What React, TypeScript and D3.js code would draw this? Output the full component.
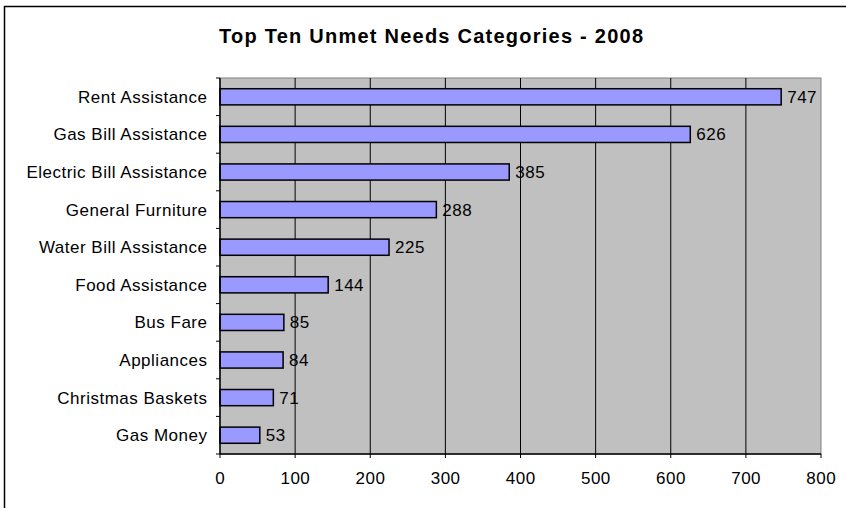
import React from "react";
import * as d3 from "d3";

const title = "Top Ten Unmet Needs Categories - 2008";
const categories = [
  "Rent Assistance",
  "Gas Bill Assistance",
  "Electric Bill Assistance",
  "General Furniture",
  "Water Bill Assistance",
  "Food Assistance",
  "Bus Fare",
  "Appliances",
  "Christmas Baskets",
  "Gas Money",
];
const values = [747, 626, 385, 288, 225, 144, 85, 84, 71, 53];
const xTicks = [0, 100, 200, 300, 400, 500, 600, 700, 800];

export default function App() {
  const W = 846, H = 508;
  const left = 220, right = 821, top = 78, bottom = 454;
  const x = d3.scaleLinear().domain([0, 800]).range([left, right]);
  const y = d3.scaleBand<string>().domain(categories).range([top, bottom]).paddingInner(0).paddingOuter(0);
  const bw = y.bandwidth();
  const barH = bw * 0.43;
  const font = "Liberation Sans, Arial, sans-serif";
  const fs = 17;
  const ls = 0.5;
  return (
    <svg width={W} height={H} style={{ position: "absolute", left: 0, top: 0, background: "#fff" }} fontFamily={font}>
      <rect x={0} y={0} width={W} height={H} fill="#fff" />
      <line x1={4.5} y1={6} x2={4.5} y2={H} stroke="#000" strokeWidth={1.5} />
      <line x1={4} y1={6.5} x2={W} y2={6.5} stroke="#000" strokeWidth={1.5} />
      <text x={219} y={43.3} fontSize={20} fontWeight="bold" textLength={424} lengthAdjust="spacing">{title}</text>
      <rect x={left} y={top} width={right - left} height={bottom - top} fill="#C0C0C0" stroke="#808080" strokeWidth={1} />
      {xTicks.slice(1, -1).map((t) => (
        <line key={t} x1={x(t)} x2={x(t)} y1={top} y2={bottom} stroke="#000" strokeWidth={1} />
      ))}
      {categories.map((c, i) => {
        const cy = (y(c) as number) + bw / 2;
        return (
          <g key={c}>
            <rect x={x(0)} y={cy - barH / 2} width={x(values[i]) - x(0)} height={barH} fill="#9999FF" stroke="#000" strokeWidth={1.5} />
            <text x={x(values[i]) + 6} y={cy} dy="0.35em" fontSize={fs} letterSpacing={ls}>{values[i]}</text>
            <text x={207 + ls} y={cy} dy="0.35em" fontSize={fs} letterSpacing={ls} textAnchor="end">{c}</text>
          </g>
        );
      })}
      {d3.range(categories.length + 1).map((i) => {
        const yy = top + i * bw;
        return <line key={i} x1={216} x2={left} y1={yy} y2={yy} stroke="#000" strokeWidth={1} />;
      })}
      <line x1={left} x2={left} y1={top} y2={bottom} stroke="#000" strokeWidth={1.5} />
      <line x1={left} x2={right} y1={bottom} y2={bottom} stroke="#000" strokeWidth={1.5} />
      {xTicks.map((t) => (
        <g key={t}>
          <line x1={x(t)} x2={x(t)} y1={bottom} y2={bottom + 4} stroke="#000" strokeWidth={1} />
          <text x={x(t) + ls / 2} y={484} textAnchor="middle" fontSize={fs} letterSpacing={ls}>{t}</text>
        </g>
      ))}
    </svg>
  );
}
